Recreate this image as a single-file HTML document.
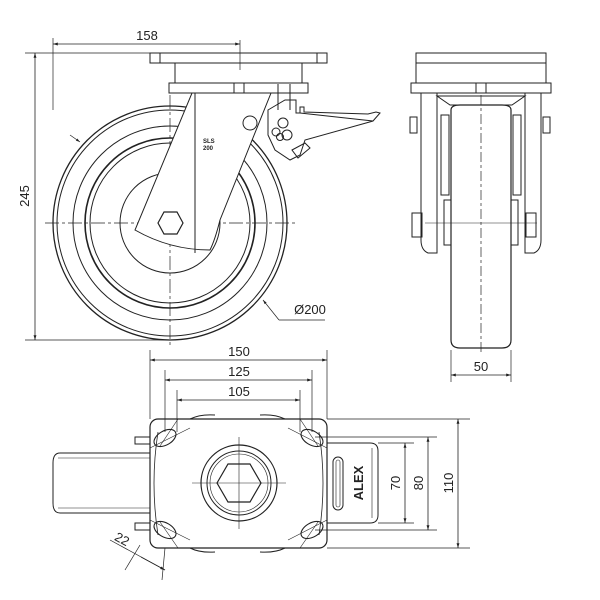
<!DOCTYPE html>
<html><head><meta charset="utf-8"><style>
html,body{margin:0;padding:0;background:#fff}
svg{display:block}
text{font-family:"Liberation Sans","DejaVu Sans",sans-serif;font-size:13px;fill:#222}
</style></head><body>
<svg width="600" height="600" viewBox="0 0 600 600" xmlns="http://www.w3.org/2000/svg">
<defs>
<marker id="a" viewBox="0 0 10 10" refX="10" refY="5" markerWidth="8" markerHeight="6" orient="auto-start-reverse"><path d="M0,2 L10,5 L0,8 z" fill="#222"/></marker>
</defs>
<g fill="none" stroke="#222" stroke-width="1">
<!-- SIDE VIEW -->
<circle cx="170" cy="223" r="117" stroke-width="1.3"/>
<circle cx="170" cy="223" r="113"/>
<circle cx="170" cy="223" r="97"/>
<circle cx="170" cy="223" r="85" stroke-width="1.6"/>
<circle cx="170" cy="223" r="80"/>
<circle cx="170" cy="223" r="50"/>
<line x1="45" y1="223" x2="298" y2="223" stroke-dasharray="14,3,3,3" stroke-width="0.7"/>
<line x1="170" y1="95" x2="170" y2="348" stroke-dasharray="14,3,3,3" stroke-width="0.7"/>
<rect x="150" y="53" width="177" height="10" fill="#fff"/>
<line x1="160" y1="53" x2="160" y2="63"/><line x1="317" y1="53" x2="317" y2="63"/>
<rect x="175" y="63" width="127" height="20" fill="#fff"/>
<rect x="169" y="83" width="139" height="10" fill="#fff"/>
<line x1="234" y1="83" x2="234" y2="93"/><line x1="244" y1="83" x2="244" y2="93"/>
<path d="M192,93 L271,93 L220,220 Q215,240 210,250 Q170,250 135,230 Z" fill="#fff"/>
<line x1="195" y1="93" x2="195" y2="253"/>
<polygon points="158,223 164,212 177,212 183,223 177,234 164,234" fill="#fff" stroke-width="1.2"/>
<circle cx="250" cy="123" r="7" fill="#fff"/>
<!-- brake -->
<path d="M268,110 L285,100 L296,100 L296,113 L300,113 L300,107 L304,107 L304,112 L368,114 L376,112 L380,113 L373,121 L366,123 L305,140 L300,155 L290,160 L275,150 L268,135 Z" fill="#fff"/>
<line x1="300" y1="113" x2="373" y2="121"/>
<circle cx="283" cy="123" r="5"/><circle cx="276" cy="132" r="4"/><circle cx="287" cy="135" r="5"/><circle cx="280" cy="137" r="3.5"/>
<path d="M292,150 L305,143 L310,148 L298,158 Z"/>
<line x1="278" y1="84" x2="278" y2="110"/><line x1="290" y1="84" x2="290" y2="110"/>
<!-- FRONT VIEW -->
<rect x="416" y="53" width="130" height="10" fill="#fff"/>
<rect x="416" y="63" width="130" height="20" fill="#fff"/>
<rect x="411" y="83" width="140" height="10" fill="#fff"/>
<line x1="476" y1="83" x2="476" y2="93"/><line x1="486" y1="83" x2="486" y2="93"/>
<path d="M421,93 L437,93 L437,253 L428,253 Q421,250 421,240 Z" fill="#fff"/>
<path d="M525,93 L541,93 L541,240 Q541,250 534,253 L525,253 Z" fill="#fff"/>
<path d="M437,96 L525,96 L512,105 L450,105 Z"/>
<rect x="441" y="115" width="8" height="80"/><rect x="513" y="115" width="8" height="80"/>
<rect x="444" y="200" width="7" height="45"/><rect x="511" y="200" width="7" height="45"/>
<rect x="410" y="117" width="7" height="16"/><rect x="543" y="117" width="7" height="16"/>
<rect x="412" y="213" width="10" height="24"/><rect x="526" y="213" width="10" height="24"/>
<path d="M451,110 Q451,105 460,105 L502,105 Q511,105 511,110 L511,340 Q511,348 502,348 L460,348 Q451,348 451,340 Z" fill="#fff" stroke-width="1.2"/>
<line x1="481" y1="95" x2="481" y2="352" stroke-dasharray="10,3,3,3" stroke-width="0.7"/>
<line x1="425" y1="223" x2="537" y2="223" stroke-width="0.6"/>
<!-- TOP VIEW -->
<path d="M53,463 Q53,453 60,453 L150,453 L150,513 L60,513 Q53,513 53,503 Z" fill="#fff"/>
<line x1="58" y1="458" x2="150" y2="458" stroke-width="0.6"/><line x1="58" y1="508" x2="150" y2="508" stroke-width="0.6"/>
<rect x="135" y="437" width="15" height="7"/><rect x="135" y="523" width="15" height="7"/>
<path d="M327,443 L370,443 Q378,443 378,451 L378,515 Q378,523 370,523 L327,523" fill="#fff"/>
<line x1="372" y1="448" x2="372" y2="518" stroke-width="0.6"/>
<rect x="333" y="457" width="10" height="53" rx="5"/>
<rect x="336" y="460" width="4" height="47" rx="2" stroke-width="0.6"/>
<path d="M190,419 Q200,414 215,415 M260,415 Q275,414 285,419 M190,548 Q200,553 215,552 M260,552 Q275,553 285,548"/>
<rect x="150" y="419" width="177" height="129" rx="8" fill="#fff" stroke-width="1.2"/>
<path d="M158,432 Q150,483 158,535 M319,432 Q327,483 319,535" stroke-width="0.8"/>
<circle cx="239" cy="483" r="38" stroke-width="1.2"/>
<circle cx="239" cy="483" r="32"/>
<circle cx="239" cy="483" r="29" stroke-width="0.6"/>
<polygon points="217,483 228,464 250,464 261,483 250,502 228,502" fill="#fff" stroke-width="1.2"/>
<line x1="192" y1="483" x2="286" y2="483" stroke-width="0.6"/><line x1="239" y1="437" x2="239" y2="529" stroke-width="0.6"/>
<g stroke-width="1.1">
<ellipse cx="165" cy="438" rx="12" ry="7" transform="rotate(-30 165 438)"/>
<ellipse cx="312" cy="438" rx="12" ry="7" transform="rotate(30 312 438)"/>
<ellipse cx="165" cy="530" rx="12" ry="7" transform="rotate(30 165 530)"/>
<ellipse cx="312" cy="530" rx="12" ry="7" transform="rotate(-30 312 530)"/>
</g>
<g stroke-width="0.6">
<line x1="150" y1="448" x2="190" y2="428"/><line x1="288" y1="428" x2="327" y2="448"/>
<line x1="150" y1="520" x2="190" y2="540"/><line x1="288" y1="540" x2="327" y2="520"/>
<line x1="178" y1="419" x2="160" y2="446"/><line x1="300" y1="419" x2="318" y2="446"/>
<line x1="160" y1="522" x2="178" y2="548"/><line x1="318" y1="522" x2="300" y2="548"/>
</g>
<!-- DIMENSIONS -->
<g stroke-width="0.7">
<line x1="53" y1="38" x2="53" y2="110"/>
<line x1="25" y1="53" x2="150" y2="53"/>
<line x1="25" y1="340" x2="170" y2="340"/>
<line x1="240" y1="40" x2="240" y2="70"/>
<line x1="451" y1="350" x2="451" y2="382"/><line x1="511" y1="350" x2="511" y2="382"/>
<line x1="150" y1="350" x2="150" y2="419"/><line x1="327" y1="350" x2="327" y2="419"/>
<line x1="165" y1="370" x2="165" y2="432"/><line x1="312" y1="370" x2="312" y2="432"/>
<line x1="177" y1="390" x2="177" y2="432"/><line x1="300" y1="390" x2="300" y2="432"/>
<line x1="327" y1="419" x2="470" y2="419"/><line x1="327" y1="548" x2="470" y2="548"/>
<line x1="315" y1="437" x2="437" y2="437"/><line x1="315" y1="530" x2="437" y2="530"/>
<line x1="378" y1="443" x2="414" y2="443"/><line x1="378" y1="523" x2="414" y2="523"/>
<line x1="263" y1="300" x2="279" y2="320" marker-start="url(#a)"/><line x1="279" y1="320" x2="325" y2="320"/>
<line x1="70" y1="135" x2="80" y2="142" marker-end="url(#a)"/>
<line x1="140" y1="545" x2="125" y2="570"/><line x1="165" y1="548" x2="162" y2="580"/>
<line x1="110" y1="540" x2="165" y2="570"/>
</g>
<g stroke-width="0.8">
<line x1="53" y1="44" x2="240" y2="44" marker-start="url(#a)" marker-end="url(#a)"/>
<line x1="35" y1="53" x2="35" y2="340" marker-start="url(#a)" marker-end="url(#a)"/>
<line x1="451" y1="375" x2="511" y2="375" marker-start="url(#a)" marker-end="url(#a)"/>
<line x1="150" y1="360" x2="327" y2="360" marker-start="url(#a)" marker-end="url(#a)"/>
<line x1="165" y1="380" x2="312" y2="380" marker-start="url(#a)" marker-end="url(#a)"/>
<line x1="177" y1="400" x2="300" y2="400" marker-start="url(#a)" marker-end="url(#a)"/>
<line x1="405" y1="443" x2="405" y2="523" marker-start="url(#a)" marker-end="url(#a)"/>
<line x1="428" y1="437" x2="428" y2="530" marker-start="url(#a)" marker-end="url(#a)"/>
<line x1="458" y1="419" x2="458" y2="548" marker-start="url(#a)" marker-end="url(#a)"/>
<line x1="141" y1="557" x2="165" y2="570" marker-end="url(#a)"/>
</g>
</g>
<text x="147" y="40" text-anchor="middle">158</text>
<text transform="translate(29,196) rotate(-90)" text-anchor="middle">245</text>
<text x="310" y="314" text-anchor="middle">Ø200</text>
<text x="481" y="371" text-anchor="middle">50</text>
<text x="239" y="356" text-anchor="middle">150</text>
<text x="239" y="376" text-anchor="middle">125</text>
<text x="239" y="396" text-anchor="middle">105</text>
<text transform="translate(400,483) rotate(-90)" text-anchor="middle">70</text>
<text transform="translate(423,483) rotate(-90)" text-anchor="middle">80</text>
<text transform="translate(453,483) rotate(-90)" text-anchor="middle">110</text>
<text transform="translate(120,543) rotate(28)" text-anchor="middle">22</text>
<text transform="translate(363,483) rotate(-90)" text-anchor="middle" style="font-weight:bold;font-size:13px">ALEX</text>
<text x="203" y="143" style="font-size:6px;font-weight:bold">SLS</text>
<text x="203" y="150" style="font-size:6px;font-weight:bold">200</text>
</svg>
</body></html>
